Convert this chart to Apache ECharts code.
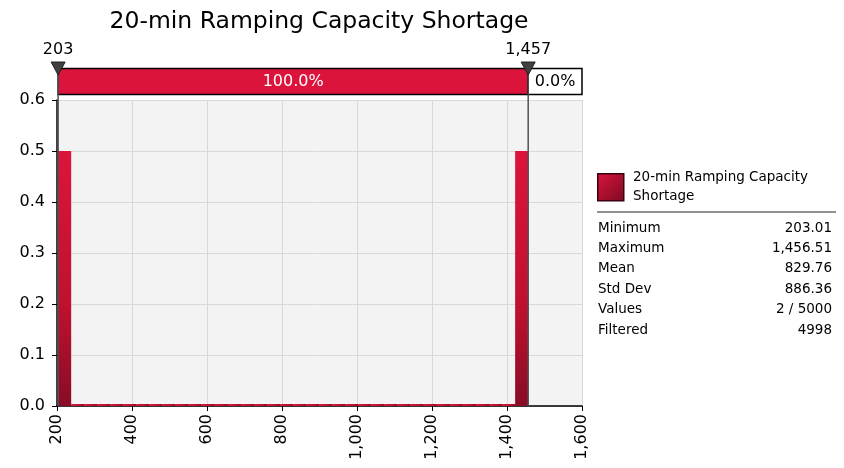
<!DOCTYPE html>
<html>
<head>
<meta charset="utf-8">
<script src="https://cdn.jsdelivr.net/npm/echarts@6/dist/echarts.min.js"></script>
<style>
    html, body { margin: 0; padding: 0; background: #ffffff; }
    #chart { width: 844px; height: 468px; }
</style>
</head>
<body>
<div id="chart"></div>
<script>
const chartTitle = '20-min Ramping Capacity Shortage'
const seriesName = '20-min Ramping Capacity\nShortage'
const minValue = 203.01
const maxValue = 1456.51
// histogram frequencies, 36 bins between min and max
const frequencies = [0.5, 0, 0, 0, 0, 0, 0, 0, 0, 0, 0, 0, 0, 0, 0, 0, 0, 0,
    0, 0, 0, 0, 0, 0, 0, 0, 0, 0, 0, 0, 0, 0, 0, 0, 0, 0.5]
const bandStarts = [203.01, 1456.51]
const bandEnds = [1456.51, 1600]
const bandLabels = ['100.0%', '0.0%']
const markerValues = [203.01, 1456.51]
const markerLabels = ['203', '1,457']
const statLabels = ['Minimum', 'Maximum', 'Mean', 'Std Dev', 'Values', 'Filtered']
const statValues = ['203.01', '1,456.51', '829.76', '886.36', '2 / 5000', '4998']

const fontFamily = 'DejaVu Sans'
const crimson = '#dc143c'

let chartDom = document.getElementById('chart')
let myChart = echarts.init(chartDom)

let binWidth = (maxValue - minValue) / frequencies.length
let histData = frequencies.map((f, i) => [minValue + i * binWidth, minValue + (i + 1) * binWidth, f])
let bandData = bandStarts.map((s, i) => [s, bandEnds[i]])

function renderBin(params, api) {
    let topLeft = api.coord([api.value(0), api.value(2)])
    let bottomRight = api.coord([api.value(1), 0])
    let h = Math.max(bottomRight[1] - topLeft[1], 2)
    return {
        type: 'rect',
        shape: {x: topLeft[0], y: bottomRight[1] - h, width: bottomRight[0] - topLeft[0], height: h},
        style: {
            fill: new echarts.graphic.LinearGradient(0, 0, 1, 1, [
                {offset: 0, color: '#dc143c'},
                {offset: 0.6, color: '#c0112f'},
                {offset: 1, color: '#880c26'}
            ])
        }
    }
}

function renderBand(params, api) {
    let left = api.coord([api.value(0), 0.6])
    let right = api.coord([api.value(1), 0.6])
    let isFirst = params.dataIndex === 0
    return {
        type: 'group',
        children: [{
            type: 'rect',
            shape: {x: left[0], y: left[1] - 31.5, width: right[0] - left[0], height: 26},
            style: {fill: isFirst ? crimson : '#ffffff', stroke: '#000000', lineWidth: 1.5}
        }, {
            type: 'text',
            x: (left[0] + right[0]) / 2,
            y: left[1] - 18,
            style: {
                text: bandLabels[params.dataIndex],
                fill: isFirst ? '#ffffff' : '#000000',
                font: '16px ' + fontFamily,
                align: 'center',
                verticalAlign: 'middle'
            }
        }]
    }
}

function renderMarker(params, api) {
    let top = api.coord([api.value(0), 0.6])
    let bottom = api.coord([api.value(0), 0])
    let x = top[0]
    return {
        type: 'group',
        children: [{
            type: 'line',
            shape: {x1: x, y1: top[1] - 30, x2: x, y2: bottom[1]},
            style: {stroke: '#505050', lineWidth: 1.5}
        }, {
            type: 'polygon',
            shape: {points: [[x - 7, top[1] - 38], [x + 7, top[1] - 38], [x, top[1] - 25]]},
            style: {fill: '#404040', stroke: '#202020', lineWidth: 1}
        }, {
            type: 'text',
            x: x,
            y: top[1] - 50,
            style: {
                text: markerLabels[params.dataIndex],
                fill: '#000000',
                font: '16px ' + fontFamily,
                align: 'center',
                verticalAlign: 'middle'
            }
        }]
    }
}

let statGraphics = []
statLabels.forEach((label, i) => {
    statGraphics.push({
        type: 'text', left: 598, top: 221 + i * 20.4,
        style: {text: label, fill: '#000000', font: '13.5px ' + fontFamily}
    })
    statGraphics.push({
        type: 'text', right: 12, top: 221 + i * 20.4,
        style: {text: statValues[i], fill: '#000000', font: '13.5px ' + fontFamily, align: 'right'}
    })
})

let option = {
    animation: false,
    textStyle: {fontFamily: fontFamily},
    title: {
        text: chartTitle,
        left: 314,
        textAlign: 'center',
        top: 5,
        textStyle: {fontSize: 23.5, fontWeight: 'normal', color: '#000000', fontFamily: fontFamily}
    },
    grid: {
        left: 57,
        right: 262,
        top: 100,
        bottom: 62,
        show: true,
        backgroundColor: '#f3f3f3',
        borderWidth: 0
    },
    xAxis: {
        type: 'value',
        min: 200,
        max: 1600,
        interval: 200,
        axisLine: {show: true, lineStyle: {color: '#000000', width: 1.5}},
        axisTick: {show: true, length: 5, lineStyle: {color: '#000000'}},
        axisLabel: {
            rotate: 90,
            fontSize: 16,
            color: '#000000',
            margin: 8,
            formatter: v => v.toLocaleString('en-US')
        },
        splitLine: {show: true, lineStyle: {color: '#d9d9d9', width: 1}}
    },
    yAxis: {
        type: 'value',
        min: 0,
        max: 0.6,
        interval: 0.1,
        axisLine: {show: true, lineStyle: {color: '#000000', width: 1.5}},
        axisTick: {show: true, length: 5, lineStyle: {color: '#000000'}},
        axisLabel: {
            fontSize: 16,
            color: '#000000',
            margin: 12,
            formatter: v => v.toFixed(1)
        },
        splitLine: {show: true, lineStyle: {color: '#d9d9d9', width: 1}}
    },
    graphic: [{
        type: 'rect',
        left: 597, top: 173,
        shape: {width: 26, height: 27},
        style: {
            fill: new echarts.graphic.LinearGradient(0, 0, 1, 1, [
                {offset: 0, color: '#dc143c'},
                {offset: 1, color: '#7c0a22'}
            ]),
            stroke: '#3a0010', lineWidth: 1.5
        }
    }, {
        type: 'text', left: 633, top: 168,
        style: {text: seriesName, fill: '#000000', font: '13.5px ' + fontFamily, lineHeight: 19}
    }, {
        type: 'line',
        shape: {x1: 597, y1: 212, x2: 836, y2: 212},
        style: {stroke: '#909090', lineWidth: 2}
    }].concat(statGraphics),
    series: [{
        name: 'histogram',
        type: 'custom',
        renderItem: renderBin,
        encode: {x: [0, 1], y: 2},
        data: histData
    }, {
        name: 'band',
        type: 'custom',
        clip: false,
        renderItem: renderBand,
        encode: {x: [0, 1]},
        data: bandData,
        z: 5
    }, {
        name: 'markers',
        type: 'custom',
        clip: false,
        renderItem: renderMarker,
        encode: {x: 0},
        data: markerValues,
        z: 6
    }]
}
option && myChart.setOption(option)
</script>
</body>
</html>
